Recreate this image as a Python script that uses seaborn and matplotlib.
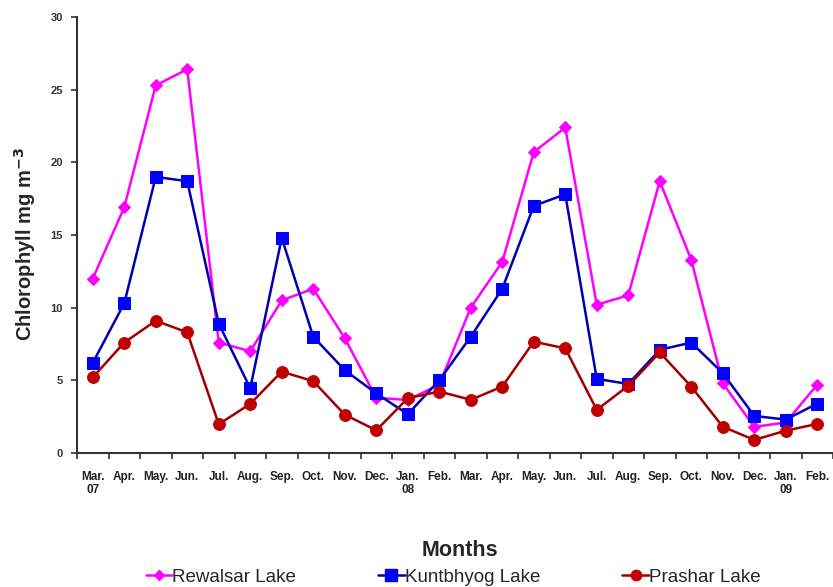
import matplotlib
matplotlib.use("Agg")
import matplotlib.pyplot as plt
import seaborn as sns
import pandas as pd
import numpy as np

months = ["Mar.\n07", "Apr.", "May.", "Jun.", "Jul.", "Aug.", "Sep.", "Oct.", "Nov.", "Dec.",
          "Jan.\n08", "Feb.", "Mar.", "Apr.", "May.", "Jun.", "Jul.", "Aug.", "Sep.", "Oct.",
          "Nov.", "Dec.", "Jan.\n09", "Feb."]

rewalsar = [12.0, 16.9, 25.3, 26.4, 7.6, 7.0, 10.5, 11.3, 7.9, 3.8, 3.65, 4.7,
            10.0, 13.15, 20.7, 22.4, 10.2, 10.85, 18.7, 13.3, 4.8, 1.8, 2.1, 4.7]
kuntbhyog = [6.2, 10.3, 19.0, 18.7, 8.9, 4.45, 14.8, 8.0, 5.7, 4.1, 2.67, 5.0,
             8.0, 11.3, 17.0, 17.8, 5.1, 4.75, 7.1, 7.6, 5.5, 2.55, 2.3, 3.4]
prashar = [5.2, 7.6, 9.1, 8.3, 1.98, 3.38, 5.6, 4.94, 2.64, 1.56, 3.77, 4.23,
           3.66, 4.57, 7.66, 7.2, 2.97, 4.62, 6.92, 4.57, 1.81, 0.9, 1.54, 2.0]

series_names = ["Rewalsar Lake", "Kuntbhyog Lake", "Prashar Lake"]
series_values = [rewalsar, kuntbhyog, prashar]
line_colors = ["#FF00FF", "#0000B0", "#A00000"]
marker_colors = ["#FF00FF", "#0000FF", "#C00000"]
marker_shapes = ["D", "s", "o"]
marker_sizes = [6.5, 9, 8.5]

sns.set_theme(style="white")
plt.rcParams["font.family"] = ["Liberation Sans", "DejaVu Sans"]

df = pd.DataFrame({
    "idx": np.tile(np.arange(len(months)), len(series_names)),
    "value": np.concatenate(series_values),
    "lake": np.repeat(series_names, len(months)),
})

fig = plt.figure(figsize=(8.33, 5.87), dpi=100)
ax = fig.add_axes([77 / 833, 1 - 453 / 587, (833 - 77) / 833, (453 - 17) / 587])

handles = []
for name, lc, mc, mk, ms in zip(series_names, line_colors, marker_colors, marker_shapes, marker_sizes):
    sub = df[df["lake"] == name]
    sns.lineplot(data=sub, x="idx", y="value", ax=ax, color=lc, linewidth=1.8,
                 marker=mk, markersize=ms, markerfacecolor=mc, markeredgecolor=mc,
                 legend=False)
    h, = ax.plot([], [], color=lc, linewidth=1.8, marker=mk, markersize=ms - 1,
                 markerfacecolor=mc, markeredgecolor=mc)
    handles.append(h)

ax.set_ylim(0, 30)
ax.set_xlim(-0.5, 23.35)
ax.set_yticks(range(0, 31, 5))
ax.set_xticks(range(len(months)))
ax.set_xticklabels(months, fontsize=8.5, color="#222222", ha="center", linespacing=1.15)
ax.set_xticks(np.arange(-0.5, len(months), 1.0), minor=True)
ax.tick_params(axis="x", which="major", length=0, pad=13)
ax.tick_params(axis="x", which="minor", length=4, width=1.2, color="#333333", direction="out", bottom=True)
ax.tick_params(axis="y", length=4, width=1.2, color="#333333", direction="out", left=True,
               labelsize=8, labelcolor="#333333", pad=6)
for lbl in ax.get_yticklabels():
    lbl.set_fontweight("bold")
for lbl in ax.get_xticklabels():
    lbl.set_fontweight("bold")

for side in ["top", "right"]:
    ax.spines[side].set_visible(False)
for side in ["left", "bottom"]:
    ax.spines[side].set_color("#333333")
    ax.spines[side].set_linewidth(1.5)

ax.set_xlabel("")
ax.set_ylabel("Chlorophyll mg m$^{\\mathbf{-3}}$", fontsize=14.5, fontweight="bold")
ax.yaxis.set_label_coords(-0.051, 0.48)
fig.text(460 / 833, 1 - 551 / 587, "Months", fontsize=15.5, fontweight="bold", ha="center", va="center")

fig.legend(handles, series_names, loc="center", bbox_to_anchor=(453 / 833, 1 - 577 / 587),
           ncol=3, frameon=False, fontsize=13.5, handlelength=1.4, handletextpad=0.0,
           columnspacing=4.4)

fig.savefig("out.png", dpi=100)
